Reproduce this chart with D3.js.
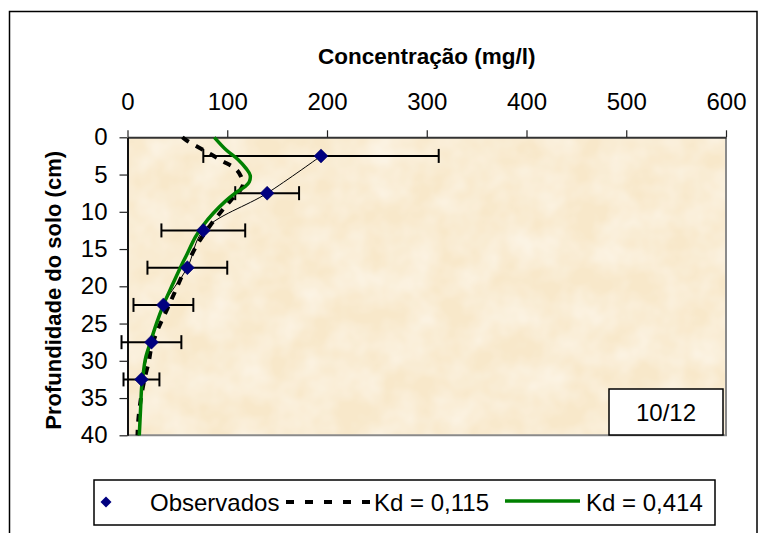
<!DOCTYPE html>
<html>
<head>
<meta charset="utf-8">
<script src="https://cdn.jsdelivr.net/npm/d3@7"></script>
<style>
  html, body { margin: 0; padding: 0; background: #ffffff; }
  svg { display: block; font-family: "Liberation Sans", Arial, sans-serif; }
</style>
</head>
<body>
<svg id="chart" width="766" height="533"></svg>
<script>
// Observed concentrations by soil depth, with their spread
const depthObs = [2.5, 7.5, 12.5, 17.5, 22.5, 27.5, 32.5];
const concObs  = [194, 140, 76, 60, 36, 24, 14];
const concErr  = [118, 32, 42, 40, 30, 30, 18];

// Simulated profile, Kd = 0,115
const depthKd115 = [0, 0.4, 1.7, 3.1, 4.3, 5.3, 6.2, 7.1, 8.4, 9.8, 12, 14.6, 17.3, 20.3, 23, 25.6, 28.2, 30, 32.5, 35, 38, 40];
const concKd115  = [55, 59, 76, 94, 109, 114, 116, 113, 104, 95, 82, 69, 59, 49, 40, 31, 24, 21.5, 17, 13.5, 10.8, 10];

// Simulated profile, Kd = 0,414
const depthKd414 = [0, 1.7, 3.0, 4.2, 5.1, 6.0, 6.6, 7.5, 8.6, 10.2, 11.8, 13.4, 15.6, 17.2, 20.1, 22.5, 25, 27.7, 29.7, 31.7, 33.5, 36.2, 40];
const concKd414  = [87, 99, 111, 119, 123, 122, 118, 108, 98, 86, 76, 68, 60, 54, 44, 36, 29, 22.5, 18, 15.8, 14.2, 13.2, 11.8];

// Axis ticks and legend
const xTicks = [0, 100, 200, 300, 400, 500, 600];
const yTicks = [0, 5, 10, 15, 20, 25, 30, 35, 40];
const legendLabels = ["Observados", "Kd = 0,115", "Kd = 0,414"];
const periodLabel = "10/12";

const svg = d3.select("#chart");
const plot = { left: 127.5, right: 726, top: 137.3, bottom: 435.3 };

const x = d3.scaleLinear().domain([0, 600]).range([plot.left, plot.right]);
const y = d3.scaleLinear().domain([0, 40]).range([plot.top, plot.bottom]);

// Outer chart frame
svg.append("rect")
  .attr("x", 9.5).attr("y", 11.5).attr("width", 747.5).attr("height", 560)
  .attr("fill", "#ffffff").attr("stroke", "#000").attr("stroke-width", 1.5);

// Parchment-like plot background
const defs = svg.append("defs");
const f = defs.append("filter").attr("id", "parch")
  .attr("x", 0).attr("y", 0).attr("width", "100%").attr("height", "100%");
f.append("feTurbulence").attr("type", "fractalNoise")
  .attr("baseFrequency", "0.03").attr("numOctaves", 3).attr("seed", 11);
f.append("feColorMatrix").attr("type", "matrix")
  .attr("values", "0 0 0 0 1  0 0 0 0 1  0 0 0 0 1  0.8 0 0 0 -0.22");

svg.append("rect")
  .attr("x", plot.left).attr("y", plot.top)
  .attr("width", plot.right - plot.left).attr("height", plot.bottom - plot.top)
  .attr("fill", "#f8e8ca");
svg.append("rect")
  .attr("x", plot.left).attr("y", plot.top)
  .attr("width", plot.right - plot.left).attr("height", plot.bottom - plot.top)
  .attr("fill", "#fff").attr("filter", "url(#parch)");

// Right and bottom border of the plot area
svg.append("path")
  .attr("d", `M${plot.right},${plot.top}V${plot.bottom}H${plot.left}`)
  .attr("fill", "none").attr("stroke", "#8a8a8a").attr("stroke-width", 2);

// Axes
const xAxis = svg.append("g")
  .attr("transform", `translate(0,${plot.top})`)
  .call(d3.axisTop(x).tickValues(xTicks).tickSize(7).tickSizeOuter(0).tickPadding(20));
const yAxis = svg.append("g")
  .attr("transform", `translate(${plot.left},0)`)
  .call(d3.axisLeft(y).tickValues(yTicks).tickSize(8).tickSizeOuter(0).tickPadding(12));

xAxis.select(".domain").attr("stroke", "#333").attr("stroke-width", 2);
yAxis.select(".domain").attr("stroke", "#111").attr("stroke-width", 2);
svg.selectAll(".tick line").attr("stroke", "#222").attr("stroke-width", 1.2);
svg.selectAll(".tick text")
  .attr("font-family", "Liberation Sans, Arial, sans-serif")
  .attr("font-size", 24).attr("fill", "#000");

// Axis titles
svg.append("text")
  .attr("x", (plot.left + plot.right) / 2).attr("y", 64)
  .attr("text-anchor", "middle").attr("font-weight", "bold").attr("font-size", 22.5)
  .text("Concentração (mg/l)");
svg.append("text")
  .attr("transform", `translate(61,${(plot.top + plot.bottom) / 2 + 4}) rotate(-90)`)
  .attr("text-anchor", "middle").attr("font-weight", "bold").attr("font-size", 22)
  .text("Profundidade do solo (cm)");

const obs = depthObs.map((d, i) => ({ depth: d, conc: concObs[i], err: concErr[i] }));

// Horizontal error bars
const eb = svg.append("g").attr("stroke", "#000").attr("stroke-width", 2);
obs.forEach(o => {
  const y0 = y(o.depth), xl = x(o.conc - o.err), xr = x(o.conc + o.err);
  eb.append("line").attr("x1", xl).attr("x2", xr).attr("y1", y0).attr("y2", y0);
  eb.append("line").attr("x1", xl).attr("x2", xl).attr("y1", y0 - 7).attr("y2", y0 + 7);
  eb.append("line").attr("x1", xr).attr("x2", xr).attr("y1", y0 - 7).attr("y2", y0 + 7);
});

const line = d3.line().x(d => x(d[0])).y(d => y(d[1])).curve(d3.curveCatmullRom.alpha(0.5));

// Thin line through the observed means
svg.append("path")
  .attr("d", line(obs.map(o => [o.conc, o.depth])))
  .attr("fill", "none").attr("stroke", "#000").attr("stroke-width", 1);

// Kd = 0,115 (dashed)
svg.append("path")
  .attr("d", line(concKd115.map((c, i) => [c, depthKd115[i]])))
  .attr("fill", "none").attr("stroke", "#000").attr("stroke-width", 4)
  .attr("stroke-dasharray", "8,8");

// Kd = 0,414 (green)
svg.append("path")
  .attr("d", line(concKd414.map((c, i) => [c, depthKd414[i]])))
  .attr("fill", "none").attr("stroke", "#008000").attr("stroke-width", 3.5);

// Observed markers
const diamond = r => `M0,${-r}L${r},0L0,${r}L${-r},0Z`;
svg.append("g").selectAll("path").data(obs).join("path")
  .attr("transform", d => `translate(${x(d.conc)},${y(d.depth)})`)
  .attr("d", diamond(7))
  .attr("fill", "#000080").attr("stroke", "#000060").attr("stroke-width", 0.5);

// Period label box
svg.append("rect")
  .attr("x", 609).attr("y", 389).attr("width", 114).attr("height", 46)
  .attr("fill", "#fff").attr("stroke", "#000").attr("stroke-width", 1.5);
svg.append("text")
  .attr("x", 666).attr("y", 421).attr("text-anchor", "middle").attr("font-size", 24)
  .text(periodLabel);

// Legend
const lg = svg.append("g");
lg.append("rect")
  .attr("x", 94).attr("y", 480).attr("width", 621).attr("height", 45)
  .attr("fill", "#fff").attr("stroke", "#000").attr("stroke-width", 1.5);
lg.append("path").attr("transform", "translate(106,502)").attr("d", diamond(5.5))
  .attr("fill", "#000080");
lg.append("text").attr("x", 150).attr("y", 511).attr("font-size", 24).text(legendLabels[0]);
lg.append("line").attr("x1", 286).attr("x2", 374).attr("y1", 502).attr("y2", 502)
  .attr("stroke", "#000").attr("stroke-width", 4).attr("stroke-dasharray", "8,11");
lg.append("text").attr("x", 374).attr("y", 511).attr("font-size", 24).text(legendLabels[1]);
lg.append("line").attr("x1", 505).attr("x2", 580).attr("y1", 501).attr("y2", 501)
  .attr("stroke", "#008000").attr("stroke-width", 3.5);
lg.append("text").attr("x", 586).attr("y", 511).attr("font-size", 24).text(legendLabels[2]);
</script>
</body>
</html>
